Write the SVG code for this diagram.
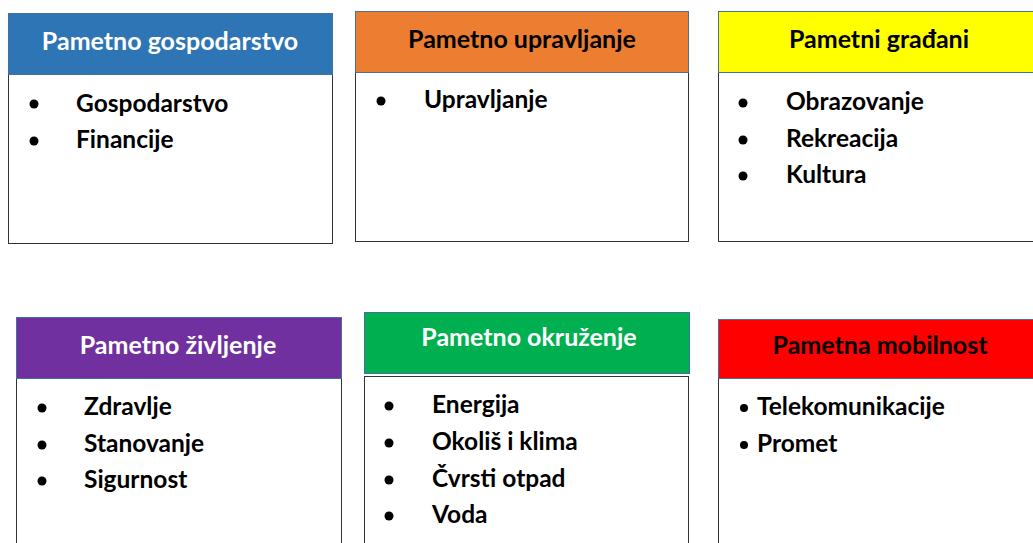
<svg xmlns="http://www.w3.org/2000/svg" width="1033" height="543" viewBox="0 0 1033 543">
<style>
.hd{stroke:#41719C;stroke-width:1}
.bd{fill:#fff;stroke:#333;stroke-width:1}
.t{font-family:Lato,"Liberation Sans",sans-serif;font-weight:bold;font-size:24.5px}
.h{font-family:Lato,"Liberation Sans",sans-serif;font-weight:bold;font-size:25px;text-anchor:middle}
.w{fill:#fff}.k{fill:#000}
</style>
<rect width="1033" height="543" fill="#fff"/>
<g id="n1">
<rect class="bd" x="8.5" y="74.5" width="324" height="169"/>
<rect class="hd" x="8.5" y="13.5" width="324" height="61" fill="#2E75B6"/>
<text class="h w" x="170" y="50">Pametno gospodarstvo</text>
<circle cx="34" cy="104" r="4.5"/><text class="t" x="76" y="112">Gospodarstvo</text>
<circle cx="34" cy="141" r="4.5"/><text class="t" x="76" y="148">Financije</text>
</g>
<g id="n2">
<rect class="bd" x="355.5" y="72.5" width="333" height="169"/>
<rect class="hd" x="355.5" y="11.5" width="333" height="61" fill="#ED7D31"/>
<text class="h k" x="522" y="48">Pametno upravljanje</text>
<circle cx="381" cy="101" r="4.5"/><text class="t" x="424" y="108">Upravljanje</text>
</g>
<g id="n3">
<rect class="bd" x="718.5" y="72.5" width="330" height="169"/>
<rect class="hd" x="718.5" y="11.5" width="330" height="61" fill="#FFFF00"/>
<text class="h k" x="879" y="48">Pametni građani</text>
<circle cx="743" cy="103" r="4.5"/><text class="t" x="786" y="110">Obrazovanje</text>
<circle cx="743" cy="140" r="4.5"/><text class="t" x="786" y="147">Rekreacija</text>
<circle cx="743" cy="176" r="4.5"/><text class="t" x="786" y="183">Kultura</text>
</g>
<g id="n4">
<rect class="bd" x="16.5" y="378.5" width="325" height="180"/>
<rect class="hd" x="16.5" y="317.5" width="325" height="61" fill="#7030A0"/>
<text class="h w" x="178" y="354">Pametno življenje</text>
<circle cx="42" cy="408" r="4.5"/><text class="t" x="84" y="415">Zdravlje</text>
<circle cx="42" cy="445" r="4.5"/><text class="t" x="84" y="452">Stanovanje</text>
<circle cx="42" cy="481" r="4.5"/><text class="t" x="84" y="488">Sigurnost</text>
</g>
<g id="n5">
<rect class="bd" x="364.5" y="376.5" width="324" height="180"/>
<rect class="hd" x="364.5" y="312.5" width="325" height="61" fill="#00B050"/>
<text class="h w" x="529" y="346">Pametno okruženje</text>
<circle cx="389" cy="406" r="4.5"/><text class="t" x="432" y="413">Energija</text>
<circle cx="389" cy="443" r="4.5"/><text class="t" x="432" y="450">Okoliš i klima</text>
<circle cx="389" cy="480" r="4.5"/><text class="t" x="432" y="487">Čvrsti otpad</text>
<circle cx="389" cy="516" r="4.5"/><text class="t" x="432" y="523">Voda</text>
</g>
<g id="n6">
<rect class="bd" x="718.5" y="378.5" width="330" height="180"/>
<rect class="hd" x="718.5" y="319.5" width="330" height="59" fill="#FF0000"/>
<text class="h k" x="880" y="354">Pametna mobilnost</text>
<circle cx="744" cy="408" r="4"/><text class="t" x="757" y="415">Telekomunikacije</text>
<circle cx="744" cy="445" r="4"/><text class="t" x="757" y="452">Promet</text>
</g>
<g id="connectors"></g>
</svg>
